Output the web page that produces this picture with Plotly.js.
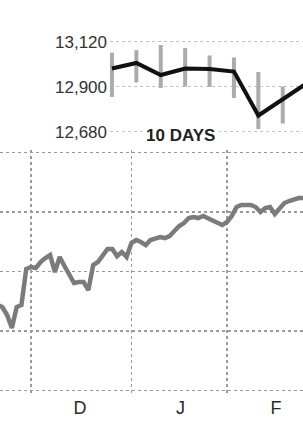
<!DOCTYPE html>
<html>
<head>
<meta charset="utf-8">
<script src="https://cdn.plot.ly/plotly-3.0.1.min.js"></script>
<style>
  html, body { margin: 0; padding: 0; background: #fff; }
  #chart { width: 303px; height: 427px; }
</style>
</head>
<body>
<div id="chart"></div>
<script>
// ---- Main chart (daily closes, one slot per trading day) ----
const mainDates = [
  '2011-11-21','2011-11-22','2011-11-23','2011-11-25','2011-11-28','2011-11-29','2011-11-30',
  '2011-12-01','2011-12-02','2011-12-05','2011-12-06','2011-12-07','2011-12-08','2011-12-09',
  '2011-12-12','2011-12-13','2011-12-14','2011-12-15','2011-12-16','2011-12-19','2011-12-20',
  '2011-12-21','2011-12-22','2011-12-23','2011-12-27','2011-12-28','2011-12-29','2011-12-30',
  '2012-01-03','2012-01-04','2012-01-05','2012-01-06','2012-01-09','2012-01-10','2012-01-11',
  '2012-01-12','2012-01-13','2012-01-17','2012-01-18','2012-01-19','2012-01-20','2012-01-23',
  '2012-01-24','2012-01-25','2012-01-26','2012-01-27','2012-01-30','2012-01-31',
  '2012-02-01','2012-02-02','2012-02-03','2012-02-06','2012-02-07','2012-02-08','2012-02-09',
  '2012-02-10','2012-02-13','2012-02-14','2012-02-15','2012-02-16','2012-02-17','2012-02-21',
  '2012-02-22','2012-02-23','2012-02-24'
];
const mainValues = [
  11550, 11523, 11415, 11240, 11523, 11550, 12034,
  12061, 12047, 12128, 12182, 12222, 11993, 12195,
  12074, 11966, 11845, 11859, 11859, 11751, 12087,
  12128, 12222, 12303, 12303, 12208, 12262, 12195,
  12383, 12424, 12397, 12356, 12424, 12450, 12464,
  12450, 12477, 12545, 12612, 12652, 12719, 12733,
  12719, 12746, 12719, 12692, 12652, 12625,
  12666, 12746, 12867, 12894, 12894, 12894, 12867,
  12800, 12854, 12867, 12773, 12840, 12921, 12948,
  12975, 12988, 12988
];
const monthStarts = ['2011-12-01','2012-01-03','2012-02-01'];
const monthLabels = ['D','J','F'];

// ---- Inset: 10 days ----
const insetDays = ['Feb 27','Feb 28','Feb 29','Mar 1','Mar 2','Mar 5','Mar 6','Mar 7','Mar 8'];
const insetClose = [12989, 13016, 12957, 12989, 12987, 12974, 12759, 12840, 12918];
const insetHigh  = [13067, 13079, 13104, 13089, 13053, 13043, 12972, 12901];
const insetLow   = [12850, 12921, 12894, 12901, 12899, 12845, 12693, 12720];
const insetTicks = [12680, 12900, 13120];

const W = 303, H = 427;
const py = p => 1 - p / H;
const FONT = 'Liberation Sans, Arial, sans-serif';

const traces = [
  {
    type: 'scatter', mode: 'lines',
    x: mainDates, y: mainValues,
    xaxis: 'x', yaxis: 'y',
    line: { color: '#7b7b7b', width: 4.5 },
    hoverinfo: 'skip'
  },
  {
    type: 'ohlc',
    x: insetDays.slice(0, insetHigh.length),
    open: insetClose.slice(0, insetHigh.length),
    close: insetClose.slice(0, insetHigh.length),
    high: insetHigh, low: insetLow,
    xaxis: 'x2', yaxis: 'y2',
    tickwidth: 0,
    increasing: { line: { color: '#ababab', width: 4 } },
    decreasing: { line: { color: '#ababab', width: 4 } },
    hoverinfo: 'skip'
  },
  {
    type: 'scatter', mode: 'lines',
    x: insetDays, y: insetClose,
    xaxis: 'x2', yaxis: 'y2',
    line: { color: '#111111', width: 4 },
    hoverinfo: 'skip'
  }
];

const layout = {
  width: W, height: H,
  margin: { l: 0, r: 0, t: 0, b: 0, pad: 0 },
  paper_bgcolor: '#ffffff', plot_bgcolor: 'rgba(0,0,0,0)',
  showlegend: false,
  font: { family: FONT, color: '#333' },
  xaxis: {
    type: 'category', domain: [0, 1], anchor: 'y',
    range: [0.515, 63.9],
    tickmode: 'array', tickvals: monthStarts, ticktext: monthLabels,
    ticklabelshift: 49,
    ticks: '', showgrid: true, gridcolor: '#9a9a9a', gridwidth: 1.5, griddash: 'dot',
    zeroline: false, showline: false,
    tickfont: { size: 18, color: '#2a2a2a', family: FONT },
    fixedrange: true
  },
  yaxis: {
    domain: [py(395), py(150)], anchor: 'x',
    range: [10340, 13634],
    tickmode: 'linear', tick0: 0, dtick: 800,
    showticklabels: false, ticks: '',
    showgrid: true, gridcolor: '#9a9a9a', gridwidth: 1.5, griddash: 'dot',
    zeroline: false, showline: false, fixedrange: true
  },
  xaxis2: {
    type: 'category', domain: [110 / W, 1], anchor: 'y2',
    range: [-0.08, 7.83],
    rangeslider: { visible: false },
    showticklabels: false, ticks: '', showgrid: false, zeroline: false, showline: false,
    fixedrange: true
  },
  yaxis2: {
    domain: [py(138), py(36)], anchor: 'x2',
    range: [12649, 13148],
    tickmode: 'array', tickvals: insetTicks, tickformat: ',d',
    ticks: '', ticklabelstandoff: 2,
    tickfont: { size: 17, color: '#333', family: FONT },
    showgrid: true, gridcolor: '#c4c4c4', gridwidth: 1.5, griddash: 'dot',
    zeroline: false, showline: false, fixedrange: true
  },
  annotations: [
    {
      text: '<b>10 DAYS</b>', xref: 'paper', yref: 'paper',
      x: 180 / W, y: py(135.5), xanchor: 'center', yanchor: 'middle',
      showarrow: false, bgcolor: '#ffffff', borderpad: 3,
      font: { size: 17, color: '#222', family: FONT }
    }
  ]
};

Plotly.newPlot('chart', traces, layout, { staticPlot: true, displayModeBar: false });
</script>
</body>
</html>
